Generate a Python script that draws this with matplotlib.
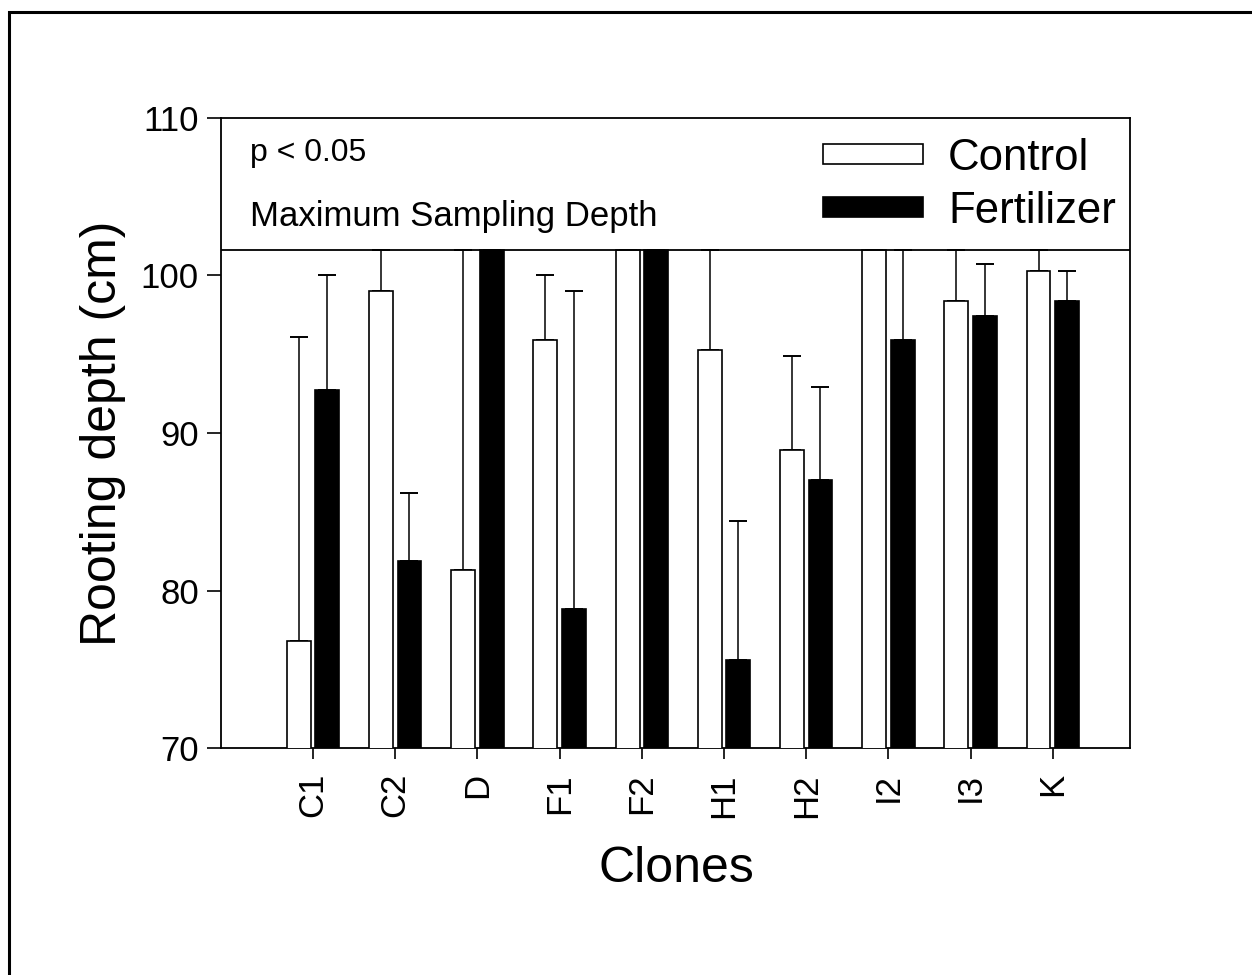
"""Rooting depth of poplar clones under control and fertilizer treatments."""

import matplotlib

matplotlib.use("Agg")

import matplotlib.pyplot as plt  # noqa: E402
import numpy as np  # noqa: E402
from matplotlib.patches import Patch, Rectangle  # noqa: E402


CLONES = ["C1", "C2", "D", "F1", "F2", "H1", "H2", "I2", "I3", "K"]
CONTROL_MEAN = [76.8, 99.0, 81.3, 95.9, 101.6, 95.3, 88.9, 101.6, 98.4, 100.3]
CONTROL_ERR = [19.3, 3.5, 21.0, 4.1, 0.0, 7.0, 6.0, 0.0, 4.0, 2.0]
FERTILIZER_MEAN = [92.7, 81.9, 101.6, 78.8, 101.6, 75.6, 87.0, 95.9, 97.4, 98.4]
FERTILIZER_ERR = [7.3, 4.3, 0.0, 20.2, 0.0, 8.8, 5.9, 7.0, 3.3, 1.9]
MAX_SAMPLING_DEPTH = 101.6
Y_TICKS = [70, 80, 90, 100, 110]

plt.rcParams["font.family"] = ["Liberation Sans", "DejaVu Sans"]


def _upper_errors(means, errors):
    means = np.asarray(means, dtype=float)
    tops = np.minimum(means + np.asarray(errors, dtype=float), MAX_SAMPLING_DEPTH)
    return np.vstack([np.zeros_like(means), tops - means])


def main() -> None:
    fig = plt.figure(figsize=(12.52, 9.75), dpi=100)
    ax = fig.add_axes([0.1765, 0.2328, 0.7261, 0.6462])

    x = np.arange(len(CLONES))
    width = 0.29
    offset = 0.173
    bar_style = dict(edgecolor="black", linewidth=1.2, zorder=3)
    err_style = dict(fmt="none", ecolor="black", elinewidth=1.1,
                     capsize=6.8, capthick=1.4, zorder=2)

    ax.errorbar(x - offset, CONTROL_MEAN,
                yerr=_upper_errors(CONTROL_MEAN, CONTROL_ERR), **err_style)
    ax.errorbar(x + offset, FERTILIZER_MEAN,
                yerr=_upper_errors(FERTILIZER_MEAN, FERTILIZER_ERR), **err_style)
    ax.bar(x - offset, CONTROL_MEAN, width, color="white", **bar_style)
    ax.bar(x + offset, FERTILIZER_MEAN, width, color="black", **bar_style)

    ax.axhline(MAX_SAMPLING_DEPTH, color="black", linewidth=1.3, zorder=4)

    ax.set_xlim(-1.12, 9.94)
    ax.set_ylim(70, 110)
    ax.set_yticks(Y_TICKS)
    ax.set_xticks(x)
    ax.set_xticklabels(CLONES, rotation=90)
    ax.tick_params(axis="y", direction="out", length=10, width=1.2,
                   labelsize=25, pad=6)
    ax.tick_params(axis="x", direction="out", length=8, width=1.2,
                   labelsize=25, pad=10)
    for spine in ax.spines.values():
        spine.set_linewidth(1.3)

    ax.set_ylabel("Rooting depth (cm)", fontsize=36)
    ax.yaxis.set_label_coords(-0.1045, 0.5)
    ax.set_xlabel("Clones", fontsize=36)
    ax.xaxis.set_label_coords(0.5006, -0.156)

    ax.text(0.032, 0.944, "p < 0.05", transform=ax.transAxes,
            fontsize=23, ha="left", va="center")
    ax.text(0.032, 0.844, "Maximum Sampling Depth", transform=ax.transAxes,
            fontsize=25, ha="left", va="center")

    handles = [
        Patch(facecolor="white", edgecolor="black", linewidth=1.2),
        Patch(facecolor="black", edgecolor="black", linewidth=1.2),
    ]
    ax.legend(handles, ["Control", "Fertilizer"], loc="upper left",
              bbox_to_anchor=(0.662, 0.968), frameon=False, fontsize=31.5,
              handlelength=2.28, handleheight=0.32, handletextpad=0.58,
              labelspacing=0.26, borderpad=0, borderaxespad=0)

    # outer frame of the original figure, cut off at the right and bottom
    fig.patches.append(Rectangle((9 / 1252, -0.05), 1.1, (975 - 12) / 975 + 0.05,
                                 transform=fig.transFigure, fill=False,
                                 edgecolor="black", linewidth=2.2))

    fig.savefig("out.png", dpi=100, facecolor="white")
    plt.close(fig)


if __name__ == "__main__":
    main()
